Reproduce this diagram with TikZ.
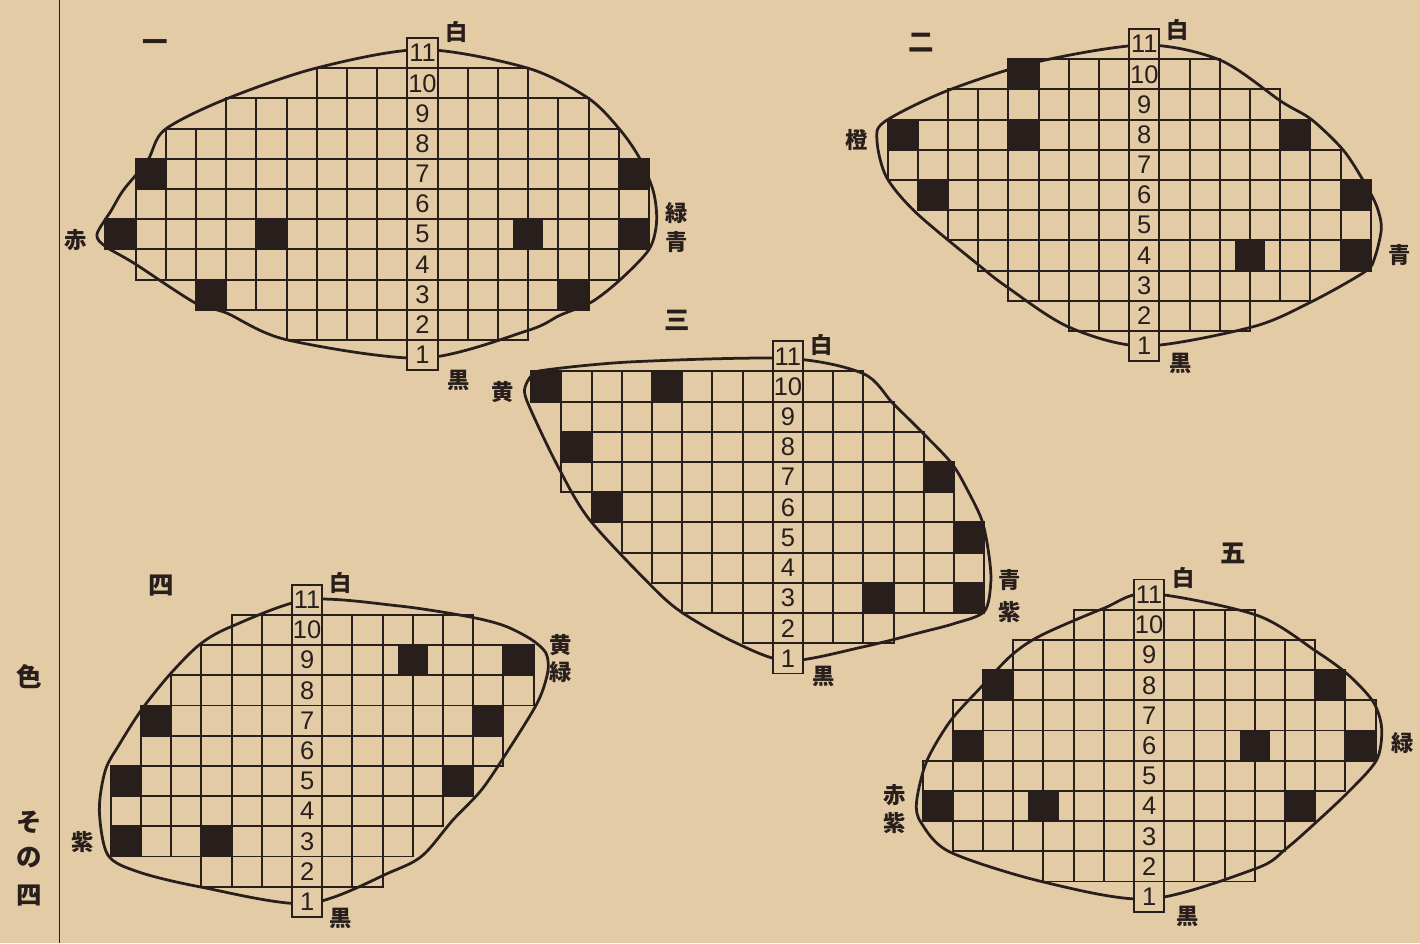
\documentclass[tikz,border=0pt]{standalone}
\usepackage{fontspec}
\usepackage{tikz}
\newfontfamily\jfont{Noto Sans CJK JP}
\newfontfamily\numfont{Liberation Sans}
\definecolor{paper}{RGB}{227,203,166}
\definecolor{ink}{RGB}{40,30,28}
\tikzset{
	cell/.style   ={draw=ink, line width=1.8pt},
	blk/.style    ={fill=ink},
	oval/.style   ={draw=ink, line width=2.6pt, line join=round},
	numbox/.style ={rectangle, draw=ink, line width=1.8pt, fill=paper, minimum width=1cm, minimum height=1cm, inner sep=0pt, text=ink, font=\numfont\fontsize{24}{24}\selectfont},
	lbl/.style    ={inner sep=0pt, text=ink, font=\jfont\bfseries\fontsize{21}{21}\selectfont},
	title/.style  ={inner sep=0pt, text=ink, font=\jfont\bfseries\fontsize{24}{24}\selectfont},
	frame/.style  ={draw=ink, line width=1.2pt},
}
% rows of cells: row/left count/right count
\newcommand{\cellrows}[1]{\foreach \k/\a/\b in {#1}{%
	\foreach \c in {-\a,...,-1}{\draw[cell] (\c-0.5,\k-1) rectangle ++(1,1);}%
	\foreach \c in {1,...,\b}{\draw[cell] (\c-0.5,\k-1) rectangle ++(1,1);}}}
% filled cells: column/row
\newcommand{\blacks}[1]{\foreach \x/\y in {#1}{\fill[blk] (\x-0.5,\y-1) rectangle ++(1,1);}}
% the numbered axis
\newcommand{\numstrip}[1]{\foreach \n in {1,...,11}{\node[numbox] (#1n\n) at (0,\n-0.5) {\n};}}

\begin{document}
\begin{tikzpicture}
	\useasboundingbox (0,0) rectangle (47.02,31.23);
	\fill[paper] (0,0) rectangle (47.02,31.23);
	\draw[frame] (1.96,0) -- (1.96,31.23);
	% ---- side title ----
	\node[title] (side1) at (0.97,8.81) {色};
	\node[title] (side2) at (0.97,4.01) {そ};
	\node[title] (side3) at (0.97,2.84) {の};
	\node[title] (side4) at (0.97,1.59) {四};
	% ---- 一 ----
	\begin{scope}[shift={(13.99,18.97)}]
		\cellrows{10/3/3, 9/6/5, 8/8/6, 7/9/7, 6/9/7, 5/10/7, 4/9/6, 3/7/5, 2/4/3}
		\blacks{-9/7, -10/5, -5/5, -7/3, 7/7, 7/5, 3.5/5, 5/3}
		\draw[oval] plot[smooth cycle] coordinates {(0,10.62) (3.5,10) (5.5,9) (6.55,7.95) (7.2,7) (7.65,5.9) (7.75,4.9) (7.5,4.0) (6.55,3.0) (5.6,2.26) (4.55,1.82) (3.5,1.32) (0,0.4) (-4.5,1.01) (-6.5,1.9) (-7.53,2.23) (-9.56,3.55) (-10.5,4.1) (-10.78,4.5) (-10.3,5.3) (-9.9,5.97) (-9.1,6.95) (-8.54,7.96) (-6.58,8.95) (-3.54,10)};
		\numstrip{a}
		\node[title] (a-no) at (-8.86,10.76) {一};
		\node[lbl] (a-w) at (1.14,11.19) {白};
		\node[lbl] (a-k) at (1.21,-0.33) {黒};
		\node[lbl] (a-l) at (-11.5,4.3) {赤};
		\node[lbl] (a-r1) at (8.43,5.2) {緑};
		\node[lbl] (a-r2) at (8.43,4.24) {青};
	\end{scope}
	% ---- 二 ----
	\begin{scope}[shift={(37.89,19.27)}]
		\cellrows{10/4/2, 9/6/4, 8/8/5, 7/8/6, 6/7/7, 5/6/7, 4/5/7, 3/4/5, 2/2/3}
		\blacks{-4/10, -8/8, -4/8, -7/6, 5/8, 7/6, 7/4, 3.5/4}
		\draw[oval] plot[smooth cycle] coordinates {(0,10.47) (2.51,9.97) (4.55,8.59) (5.54,8.0) (6.58,7.0) (7.24,6.0) (7.68,5.17) (7.85,4.4) (7.62,3.4) (7.3,2.96) (5.54,1.97) (3.6,1.14) (0,0.5) (-2.5,1.13) (-4.55,2.46) (-5.54,3.23) (-7.56,4.92) (-8.54,6.1) (-8.85,7.3) (-8.6,7.93) (-6.54,8.95) (-3.55,9.91)};
		\numstrip{b}
		\node[title] (b-no) at (-7.39,10.56) {二};
		\node[lbl] (b-w) at (1.09,10.96) {白};
		\node[lbl] (b-k) at (1.19,-0.06) {黒};
		\node[lbl] (b-l) at (-9.51,7.32) {橙};
		\node[lbl] (b-r) at (8.47,3.51) {青};
	\end{scope}
	% ---- 三 ----
	\begin{scope}[shift={(26.09,8.93)}]
		\cellrows{10/8/2, 9/7/3, 8/7/4, 7/7/5, 6/6/5, 5/5/6, 4/4/6, 3/3/6, 2/1/3}
		\blacks{-8/10, -4/10, -7/8, -6/6, 5/7, 6/5, 6/3, 3/3}
		\draw[oval] plot[smooth cycle] coordinates {(0,10.43) (2.49,9.93) (3.48,8.94) (4.48,7.95) (5.42,6.96) (5.92,6.12) (6.42,5.08) (6.64,4.03) (6.72,3.04) (6.5,2.05) (5.5,1.65) (4.48,1.38) (2.49,0.88) (0,0.42) (-1.8,1.05) (-3.54,2.04) (-4.6,2.98) (-6.6,5.13) (-7.66,6.94) (-8.56,8.83) (-8.72,9.4) (-8.5,9.85) (-8.09,10.04) (-5.13,10.32)};
		\numstrip{c}
		\node[title] (c-no) at (-3.68,11.68) {三};
		\node[lbl] (c-w) at (1.12,10.87) {白};
		\node[lbl] (c-k) at (1.19,-0.11) {黒};
		\node[lbl] (c-l) at (-9.45,9.32) {黄};
		\node[lbl] (c-r1) at (7.34,3.09) {青};
		\node[lbl] (c-r2) at (7.34,2.04) {紫};
	\end{scope}
	% ---- 四 ----
	\begin{scope}[shift={(10.17,0.87)}]
		\cellrows{10/2/5, 9/3/7, 8/4/7, 7/5/6, 6/5/6, 5/6/5, 4/6/4, 3/6/3, 2/3/2}
		\blacks{-5/7, -6/5, -6/3, -3/3, 7/9, 3.5/9, 6/7, 5/5}
		\draw[oval] plot[smooth cycle] coordinates {(0,10.5) (3,10.3) (5.3,9.95) (6.5,9.65) (7.4,9.2) (7.9,8.75) (7.98,8.2) (7.8,7.5) (7.52,6.9) (6.84,5.8) (5.81,4.25) (4.82,3.2) (3.83,2.04) (2.78,1.49) (0,0.44) (-3.58,1.0) (-5.59,1.49) (-6.6,2.05) (-6.88,3.53) (-6.68,4.86) (-6.2,5.74) (-5.49,6.85) (-4.57,8.0) (-3.58,9.0) (-2.54,9.6)};
		\numstrip{d}
		\node[title] (d-no) at (-4.82,10.98) {四};
		\node[lbl] (d-w) at (1.1,11.05) {白};
		\node[lbl] (d-k) at (1.1,-0.05) {黒};
		\node[lbl] (d-r1) at (8.41,8.99) {黄};
		\node[lbl] (d-r2) at (8.41,8.11) {緑};
		\node[lbl] (d-l) at (-7.44,2.48) {紫};
	\end{scope}
	% ---- 五 ----
	\begin{scope}[shift={(38.05,1.04)}]
		\cellrows{10/2/3, 9/4/5, 8/5/6, 7/6/7, 6/6/7, 5/7/6, 4/7/5, 3/6/4, 2/3/3}
		\blacks{-5/8, -6/6, -7/4, -3.5/4, 6/8, 7/6, 3.5/6, 5/4}
		\draw[oval] plot[smooth cycle] coordinates {(0,10.54) (3.56,9.82) (5.55,8.61) (6.6,7.84) (7.42,6.95) (7.7,6.07) (7.53,5.02) (6.6,3.97) (5.55,2.98) (4.55,2.1) (3.56,1.44) (0,0.42) (-3.56,1.0) (-6.6,1.98) (-7.55,2.95) (-7.7,3.64) (-7.37,4.97) (-6.6,6.29) (-5.6,7.4) (-4.55,8.5) (-3.56,9.16) (-1.52,10.04)};
		\numstrip{e}
		\node[title] (e-no) at (2.78,11.87) {五};
		\node[lbl] (e-w) at (1.15,11.04) {白};
		\node[lbl] (e-k) at (1.27,-0.17) {黒};
		\node[lbl] (e-r) at (8.41,5.58) {緑};
		\node[lbl] (e-l1) at (-8.43,3.86) {赤};
		\node[lbl] (e-l2) at (-8.43,2.93) {紫};
	\end{scope}
\end{tikzpicture}
\end{document}
